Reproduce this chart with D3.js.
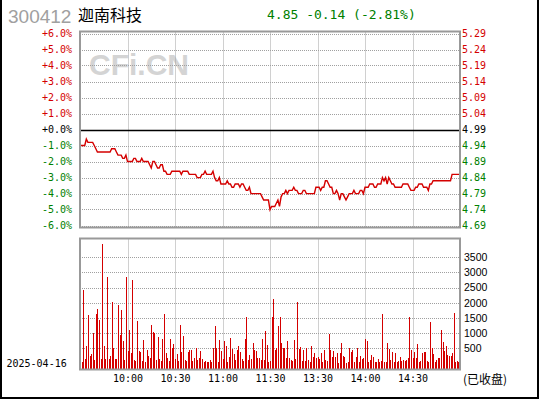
<!DOCTYPE html>
<html><head><meta charset="utf-8">
<script src="https://cdn.jsdelivr.net/npm/d3@7"></script>
<style>body{margin:0;background:#fff}svg{display:block}</style>
</head><body><svg id="c" width="540" height="400"></svg>
<script>
const stockCode = "300412";
const stockName = "迦南科技";
const quoteText = "4.85 -0.14 (-2.81%)";
const tradeDate = "2025-04-16";
const closedText = "(已收盘)";
const watermark = "CFi.CN";
const prevClose = 4.99;
const pctTicks = [6,5,4,3,2,1,0,-1,-2,-3,-4,-5,-6];
const pctLabels = ["+6.0%","+5.0%","+4.0%","+3.0%","+2.0%","+1.0%","+0.0%","-1.0%","-2.0%","-3.0%","-4.0%","-5.0%","-6.0%"];
const priceLabels = ["5.29","5.24","5.19","5.14","5.09","5.04","4.99","4.94","4.89","4.84","4.79","4.74","4.69"];
const timeTicks = [30,60,90,120,150,180,210];
const timeLabels = ["10:00","10:30","11:00","11:30","13:30","14:00","14:30"];
const volTicks = [500,1000,1500,2000,2500,3000,3500];

// one value per minute, 9:30 .. 11:30 then 13:01 .. 15:00
const prices = [
4.94,4.94,4.94,4.94,4.96,4.95,4.95,4.95,4.95,4.94,
4.93,4.92,4.92,4.92,4.92,4.92,4.92,4.92,4.92,4.92,
4.93,4.93,4.93,4.92,4.91,4.91,4.91,4.90,4.90,4.91,
4.89,4.89,4.89,4.89,4.90,4.90,4.89,4.89,4.89,4.90,
4.89,4.89,4.89,4.89,4.88,4.87,4.89,4.89,4.88,4.87,
4.87,4.88,4.88,4.86,4.86,4.85,4.85,4.85,4.86,4.86,
4.86,4.86,4.86,4.86,4.85,4.86,4.86,4.86,4.86,4.85,
4.85,4.85,4.85,4.85,4.84,4.84,4.84,4.85,4.85,4.86,
4.85,4.85,4.85,4.85,4.86,4.84,4.83,4.83,4.84,4.82,
4.82,4.82,4.82,4.83,4.82,4.82,4.81,4.81,4.82,4.82,
4.82,4.81,4.82,4.82,4.81,4.80,4.80,4.81,4.79,4.79,
4.79,4.79,4.79,4.79,4.79,4.78,4.77,4.77,4.77,4.77,
4.74,4.75,4.75,4.75,4.76,4.77,4.75,4.78,4.79,4.79,
4.80,4.79,4.80,4.80,4.80,4.81,4.80,4.80,4.79,4.79,
4.79,4.80,4.80,4.79,4.79,4.79,4.79,4.79,4.79,4.81,
4.81,4.81,4.80,4.81,4.81,4.83,4.83,4.82,4.81,4.81,
4.79,4.79,4.80,4.79,4.77,4.79,4.79,4.78,4.77,4.78,
4.79,4.79,4.79,4.80,4.79,4.79,4.79,4.80,4.80,4.79,
4.81,4.81,4.81,4.82,4.82,4.82,4.81,4.81,4.82,4.82,
4.82,4.84,4.83,4.84,4.82,4.84,4.83,4.82,4.82,4.81,
4.81,4.81,4.81,4.81,4.82,4.82,4.82,4.82,4.81,4.80,
4.80,4.80,4.81,4.81,4.82,4.82,4.82,4.81,4.81,4.81,
4.80,4.82,4.82,4.83,4.83,4.83,4.83,4.83,4.83,4.83,
4.83,4.83,4.83,4.83,4.83,4.85,4.85,4.85,4.85,4.85,4.85
];

const volumes = [
30,30,2430,120,570,1600,240,310,990,110,
1630,1800,1410,150,3950,570,150,2850,120,220,
2010,510,140,120,1930,940,1760,740,90,2860,
410,1100,350,2760,110,80,1400,390,380,80,
770,40,420,240,180,1270,1040,990,110,870,
140,80,800,1630,340,180,80,800,510,640,
140,310,80,1270,380,900,110,80,380,440,
440,80,180,510,110,180,410,140,40,80,
20,20,110,40,510,1240,510,20,770,410,
140,740,570,20,210,840,470,310,110,440,
570,380,140,80,800,1530,110,280,140,670,
440,410,180,180,110,800,100,1070,610,40,
60,1520,2130,420,500,1240,1510,660,500,500,
180,740,180,90,60,770,120,2010,470,530,
80,440,60,510,90,50,570,210,340,180,
210,140,340,20,440,110,80,970,440,210,
410,210,340,10,340,670,240,210,10,40,
510,380,440,20,210,510,20,240,140,170,
800,740,20,110,280,210,40,40,150,20,
60,1630,40,20,660,470,110,380,20,340,
20,80,210,80,110,80,110,170,1510,440,
180,380,180,640,20,80,330,380,380,70,
50,1370,510,310,20,110,180,180,1100,710,
410,570,280,240,240,340,1670,40,60,50,
900
];

const svg = d3.select("#c");
const RED = "#d40000", GREEN = "#008000", GRID = "#a0a0a0";
const monoFont = "'DejaVu Sans Mono','Liberation Mono',monospace";

const L = 80, R = 460;
const pTop = 31.5, pBot = 227.5;
const vTop = 238.5, vBot = 369.5;

const x = d3.scaleLinear().domain([0, 240]).range([L, R]);
const yPct = d3.scaleLinear().domain([-6, 6]).range([225.5, 33.5]);
const yPrice = d3.scaleLinear().domain([prevClose * 0.94, prevClose * 1.06]).range([225.5, 33.5]);
const yVol = d3.scaleLinear().domain([0, 3500]).range([363.1, 257.3]);

// outer frame
svg.append("rect").attr("x", 1).attr("y", -5).attr("width", 537).attr("height", 403)
  .attr("fill", "none").attr("stroke", "#000").attr("stroke-width", 2);

// header
svg.append("text").attr("x", 8).attr("y", 23.3).text(stockCode)
  .attr("font-family", "'Liberation Sans',Arial,sans-serif").attr("font-size", 19).attr("fill", "#a0a0a0");
svg.append("text").attr("x", 78).attr("y", 20.5).text(stockName)
  .attr("font-family", "'Noto Sans CJK SC',sans-serif").attr("font-size", 16).attr("fill", "#000");
svg.append("text").attr("x", 267).attr("y", 19).text(quoteText)
  .attr("font-family", monoFont).attr("font-size", 13).attr("fill", GREEN);

// watermark
svg.append("text").attr("x", 89).attr("y", 75).text(watermark)
  .attr("font-family", "'Liberation Sans',Arial,sans-serif").attr("font-weight", "bold")
  .attr("font-size", 30).attr("fill", "#d4d4d4");

// price grid
const pg = svg.append("g");
pg.selectAll("line.h").data(pctTicks.filter(d => d !== 0)).join("line")
  .attr("x1", L).attr("x2", R).attr("y1", d => Math.round(yPct(d)) + 0.5).attr("y2", d => Math.round(yPct(d)) + 0.5)
  .attr("stroke", GRID).attr("stroke-dasharray", "1,1");
pg.selectAll("line.v").data(timeTicks).join("line")
  .attr("x1", d => Math.round(x(d)) + 0.5).attr("x2", d => Math.round(x(d)) + 0.5)
  .attr("y1", pTop).attr("y2", pBot)
  .attr("stroke", GRID).attr("stroke-dasharray", "1,1");
svg.append("line").attr("x1", L).attr("x2", R).attr("y1", Math.round(yPct(0)) + 0.5).attr("y2", Math.round(yPct(0)) + 0.5)
  .attr("stroke", "#000").attr("stroke-width", 1.3);

// volume grid
const vg = svg.append("g");
vg.selectAll("line").data(volTicks).join("line")
  .attr("x1", L).attr("x2", R).attr("y1", d => Math.round(yVol(d)) + 0.5).attr("y2", d => Math.round(yVol(d)) + 0.5)
  .attr("stroke", GRID).attr("stroke-dasharray", "1,1");
svg.append("g").selectAll("line").data(timeTicks).join("line")
  .attr("x1", d => Math.round(x(d)) + 0.5).attr("x2", d => Math.round(x(d)) + 0.5)
  .attr("y1", vTop).attr("y2", vBot)
  .attr("stroke", GRID).attr("stroke-dasharray", "1,1");

// volume bars
svg.append("g").selectAll("rect").data(volumes).join("rect")
  .attr("x", (d, i) => Math.round(x(i)))
  .attr("width", 1)
  .attr("y", d => yVol(d))
  .attr("height", d => vBot - 0.5 - yVol(d))
  .attr("fill", RED).attr("shape-rendering", "crispEdges");

// price line
svg.append("path").datum(prices)
  .attr("d", d3.line().x((d, i) => x(i)).y(d => yPrice(d)))
  .attr("fill", "none").attr("stroke", RED).attr("stroke-width", 1.4);

// frames
svg.append("rect").attr("x", L).attr("y", pTop).attr("width", R - L).attr("height", pBot - pTop)
  .attr("fill", "none").attr("stroke", "#999").attr("stroke-width", 2);
svg.append("rect").attr("x", L).attr("y", vTop).attr("width", R - L).attr("height", vBot - vTop)
  .attr("fill", "none").attr("stroke", "#999").attr("stroke-width", 2);

const colorFor = d => d > 0 ? RED : (d < 0 ? GREEN : "#000");

// left percent axis
const ax1 = svg.append("g").attr("transform", `translate(${L},0)`)
  .call(d3.axisLeft(yPct).tickValues(pctTicks).tickFormat((d, i) => pctLabels[i]).tickSize(0).tickPadding(8));
ax1.select(".domain").remove();
ax1.selectAll("text").attr("font-family", monoFont).attr("font-size", 10).attr("fill", d => colorFor(d));

// right price axis
const ax2 = svg.append("g").attr("transform", `translate(${R},0)`)
  .call(d3.axisRight(yPct).tickValues(pctTicks).tickFormat((d, i) => priceLabels[i]).tickSize(0).tickPadding(2));
ax2.select(".domain").remove();
ax2.selectAll("text").attr("font-family", monoFont).attr("font-size", 10).attr("fill", d => colorFor(d));

// right volume axis
const ax3 = svg.append("g").attr("transform", `translate(${R},0)`)
  .call(d3.axisRight(yVol).tickValues(volTicks).tickFormat(d => String(d)).tickSize(0).tickPadding(4));
ax3.select(".domain").remove();
ax3.selectAll("text").attr("font-family", "'Liberation Sans',Arial,sans-serif").attr("font-size", 10.5).attr("fill", "#000");

// time axis
const ax4 = svg.append("g").attr("transform", `translate(0,${vBot})`)
  .call(d3.axisBottom(x).tickValues(timeTicks).tickFormat((d, i) => timeLabels[i]).tickSize(0).tickPadding(5));
ax4.select(".domain").remove();
ax4.selectAll("text").attr("font-family", monoFont).attr("font-size", 10).attr("fill", "#000");

svg.append("text").attr("x", 6.5).attr("y", 367).text(tradeDate)
  .attr("font-family", monoFont).attr("font-size", 10).attr("fill", "#000");
svg.append("text").attr("x", 463).attr("y", 383.5).text(closedText)
  .attr("font-family", "'Noto Sans CJK SC',sans-serif").attr("font-size", 12).attr("fill", "#000");
</script></body></html>
